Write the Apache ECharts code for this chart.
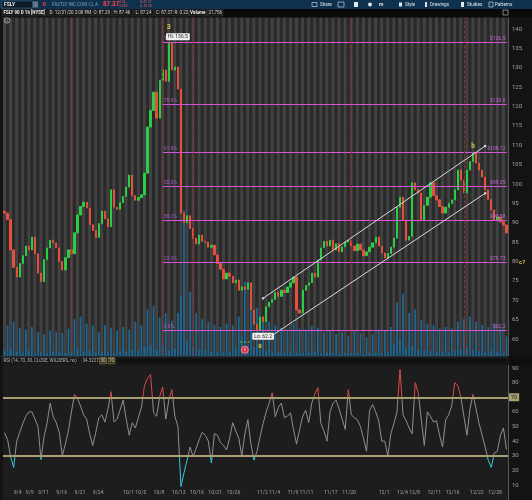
<!DOCTYPE html>
<html>
<head>
<meta charset="utf-8">
<script src="https://cdn.jsdelivr.net/npm/echarts@6/dist/echarts.min.js"></script>
<style>
html,body{margin:0;padding:0;background:#131313;}
#c{width:532px;height:500px;}
</style>
</head>
<body>
<div id="c"></div>
<script>
// ---------- DATA ----------
const tradingDays = ['9/3','9/4','9/8','9/9','9/10','9/11','9/14','9/15','9/16','9/17','9/18','9/21','9/22','9/23','9/24','9/25','9/28','9/29','9/30',
 '10/1','10/2','10/5','10/6','10/7','10/8','10/9','10/12','10/13','10/14','10/15','10/16','10/19','10/20','10/21','10/22','10/23','10/26','10/27','10/28','10/29','10/30',
 '11/2','11/3','11/4','11/5','11/6','11/9','11/10','11/11','11/12','11/13','11/16','11/17','11/18','11/19','11/20','11/23','11/24','11/25','11/27','11/30',
 '12/1','12/2','12/3','12/4','12/7','12/8','12/9','12/10','12/11','12/14','12/15','12/16','12/17','12/18','12/21','12/22','12/23','12/24','12/28','12/29','12/30','12/31'];
const labelledDays = ['9/4','9/9','9/11','9/16','9/21','9/24','10/1','10/5','10/8','10/13','10/16','10/21','10/26','11/2','11/4','11/9','11/11','11/17','11/20','12/1','12/4','12/8','12/11','12/16','12/22','12/28'];
const firstOpen = 93.0;
// closes per half-day session slot (extended, regular)
const closes = [
 92.5, 90.8, 83.0, 78.5, 76.0, 79.5, 81.5, 84.0, 83.0, 86.3,
 82.0, 77.0, 74.8, 80.5, 83.5, 85.5, 84.8, 83.5, 80.0, 77.8,
 81.0, 83.0, 82.0, 87.4, 92.0, 94.2, 95.3, 93.8, 89.5, 88.0,
 86.2, 89.8, 93.0, 91.0, 89.0, 98.5, 94.0, 93.5, 95.2, 96.8,
 99.2, 102.3, 97.0, 95.8, 96.5, 97.2, 102.8, 114.7, 119.0, 123.7,
 117.0, 126.8, 129.4, 126.5, 136.5, 129.4, 130.2, 124.5, 92.5, 90.0,
 91.8, 88.5, 86.0, 84.5, 86.8, 85.2, 85.0, 83.7, 84.2, 81.7,
 79.5, 78.0, 75.5, 77.0, 76.2, 74.5, 75.2, 72.6, 73.5, 72.8,
 74.5, 67.5, 63.8, 62.2, 65.7, 64.5, 68.3, 69.5, 70.2, 72.0,
 71.0, 72.6, 72.0, 73.4, 74.5, 76.0, 67.5, 66.7, 72.6, 73.8,
 74.5, 77.0, 76.0, 80.4, 83.5, 85.2, 84.0, 85.5, 83.0, 84.6,
 82.5, 83.8, 85.0, 85.5, 84.0, 82.8, 84.5, 83.0, 81.5, 82.5,
 83.7, 84.8, 86.3, 84.0, 82.2, 80.9, 82.0, 83.7, 86.0, 94.0,
 96.6, 90.7, 85.5, 86.5, 100.3, 98.5, 97.7, 90.7, 94.5, 96.6,
 100.3, 97.0, 95.9, 94.2, 92.5, 94.0, 95.0, 95.9, 98.5, 103.6,
 101.0, 97.7, 103.6, 105.8, 108.0, 105.4, 103.6, 101.8, 98.5, 96.0,
 93.3, 90.7, 91.5, 90.2, 89.4, 87.37];
const rsiValues = [
 45.8, 41, 29.3, 22, 40, 46, 52, 57, 60, 60,
 55, 50, 27.3, 43, 52.6, 66, 56.7, 52.6, 46, 30,
 38, 47, 60, 72, 69, 64, 58, 55, 45, 37,
 46, 56, 58, 53, 62, 73.8, 53, 55, 61.5, 68,
 55, 44, 52.6, 49, 56, 63, 78, 83, 85.5, 59.4,
 57, 70.4, 77, 55, 68, 75.2, 57, 50, 9, 18.4,
 27, 36, 29.3, 35, 41, 46, 44, 40, 25, 45,
 44, 39, 37, 34, 42, 52.6, 47, 42, 30, 45,
 54.6, 38, 27, 33, 43, 52, 60, 66, 73, 56.7,
 63, 66, 56, 57, 59.4, 47.8, 38, 48, 57, 61,
 52.6, 66, 72, 76.6, 52, 47, 40, 60, 66, 68,
 62, 55, 48, 75.2, 58, 56, 54.6, 50, 42, 33,
 61, 65, 60, 54, 40, 40, 30, 45, 52, 60,
 89, 58, 54, 49, 45, 80, 73, 54.6, 37, 60,
 57, 53, 54, 44, 36, 54.6, 58, 64, 80, 78,
 70, 57, 44, 62, 72, 62, 52, 44, 36, 27,
 22, 32, 33, 44, 49, 34.3227];
// volume (thousands) per slot: extended, regular
const volumes = [
 90,380, 110,420, 80,350, 70,330, 90,360, 60,300, 70,280, 60,320, 80,300, 70,290,
 60,340, 90,450, 110,480, 80,400, 90,380, 70,300, 80,380, 70,350, 60,320, 90,360,
 80,330, 100,420, 90,380, 130,560, 150,600, 100,470, 140,520, 90,430, 110,520, 720,1700,
 200,760, 120,520, 100,450, 90,420, 80,380, 80,360, 70,400, 80,380, 120,480, 260,880,
 150,620, 130,580, 100,480, 90,420, 80,380, 70,350, 60,330, 80,400, 70,340, 60,330,
 70,370, 80,350, 60,300, 70,320, 60,280, 50,300, 60,260, 70,320, 60,290, 50,240,
 60,280, 70,330, 60,320, 80,360, 160,640, 220,740, 120,520, 140,560, 100,440, 90,400,
 80,380, 70,340, 80,360, 70,340, 90,420, 100,450, 120,480, 90,420, 80,380, 70,360,
 90,400, 80,340, 60,250];
const fibLevels = [136.5, 120.6, 108.12, 99.35, 90.58, 79.73, 62.2];
const fibPercents = ['100%', '78.6%', '61.8%', '50.0%', '38.2%', '23.6%', '0.0%'];
const fibTags = ['$136.5', '$120.6', '$108.12', '$99.35', '$90.58', '$79.73', '$62.2'];
const fibStartSlot = 52;
const eventSlots = [22, 52, 62, 114, 151];
const channelUpper = [[85, 70.5], [158, 109.8]];
const channelLower = [[87, 60.4], [158, 97.6]];
const lastClose = 87.37;
const lastRsi = 34.3227;

// ---------- BUILD ----------
const slots = [];
tradingDays.forEach(d => { slots.push(d + ' ext'); slots.push(d); });
const lastSlot = slots.length - 1;
const labelSet = new Set(labelledDays.map(d => 2 * tradingDays.indexOf(d) + 1));
const candles = closes.map((c, i) => {
  const o = i ? closes[i - 1] : firstOpen;
  return [o, c, Math.min(o, c), Math.max(o, c)];
});

const FONT = 'Roboto';
const fibColor = '#d652d6';
const markLines = [];
fibLevels.forEach((v, i) => {
  markLines.push([
    {coord: [fibStartSlot, v], lineStyle: {color: fibColor, width: 1.2, type: 'solid'},
     label: {show: true, position: 'insideStartTop', formatter: fibPercents[i], color: '#a65cbf', fontSize: 5, distance: 1, fontFamily: FONT}},
    {coord: [lastSlot, v]}]);
  markLines.push([
    {coord: [fibStartSlot, v], lineStyle: {color: fibColor, width: 1.2, type: 'solid'},
     label: {show: true, position: 'insideEndTop', formatter: fibTags[i], color: '#c66cd8', fontSize: 5, distance: 1, fontFamily: FONT}},
    {coord: [lastSlot, v]}]);
});
eventSlots.forEach(s => markLines.push({xAxis: s, lineStyle: {color: '#9b2f2f', width: 1, type: [3, 2]}, label: {show: false}}));
[channelUpper, channelLower].forEach(ch => markLines.push([
  {coord: ch[0], symbol: 'circle', symbolSize: 2.5, lineStyle: {color: '#d9d9d9', width: 1, type: 'solid'}, label: {show: false}},
  {coord: ch[1], symbol: 'circle', symbolSize: 2.5}]));
markLines.push({yAxis: lastClose, lineStyle: {opacity: 0},
  label: {show: true, position: 'end', formatter: String(lastClose), backgroundColor: '#22a03e', color: '#ffffff',
          fontSize: 5.5, padding: [1, 2], distance: 1, fontFamily: FONT}});

const noteStyle = (txt, color, size, bg) => ({show: true, position: 'inside', formatter: txt, color: color, fontSize: size,
  fontWeight: 'bold', fontFamily: FONT, backgroundColor: bg || 'transparent', padding: bg ? [1, 2] : 0, borderRadius: 1});
const markPoints = [
  {coord: [54, 140.5], label: noteStyle('3', '#d8c54a', 7)},
  {coord: [57, 138.0], label: Object.assign(noteStyle('Hi: 136.5', '#222', 5, '#eeeeee'), {fontWeight: 'normal'})},
  {coord: [85, 60.7], label: Object.assign(noteStyle('Lo: 62.2', '#222', 5, '#eeeeee'), {fontWeight: 'normal'})},
  {coord: [84, 58.1], label: noteStyle('a', '#d8c54a', 6.5)},
  {coord: [154, 109.6], label: noteStyle('b', '#d8c54a', 6.5)},
  {coord: [79, 59.0], label: noteStyle('=·=·=', '#3fcf4a', 4.5)},
  {coord: [79, 57.2], symbol: 'circle', symbolSize: 7, itemStyle: {color: '#d0304a', borderColor: '#ff8a9a', borderWidth: 1},
   label: {show: true, position: 'inside', formatter: 'E', color: '#ffd0d8', fontSize: 4, fontFamily: FONT}}
];
markPoints.forEach(p => { if (!p.symbol) { p.symbol = 'circle'; p.symbolSize = 1; p.itemStyle = {color: 'rgba(0,0,0,0)'}; } });

// ---------- DECORATION (toolbar / headers) ----------
const T = (x, y, text, fill, size, weight, align) => ({type: 'text', x: x, y: y, z: 101,
  style: {text: text, fill: fill, font: (weight || 'normal') + ' ' + size + 'px ' + FONT, align: align || 'left', verticalAlign: 'middle'}});
const R = (x, y, w, h, fill, stroke) => ({type: 'rect', z: 100, shape: {x: x, y: y, width: w, height: h},
  style: {fill: fill, stroke: stroke || null, lineWidth: stroke ? 0.6 : 0}});
const graphics = [
  R(0, 0, 532, 9, '#0f3150'),
  R(1.5, 1, 31, 7, '#0b1b2a', '#46637d'),
  T(4, 4.6, 'FSLY', '#e8e8e8', 5, 'bold'),
  R(33, 1.5, 5, 6, '#62788a'),
  T(42.5, 4.6, '0', '#ff3b3b', 6, 'bold'),
  T(52, 4.6, 'FASTLY INC COM CL A', '#7f9fc0', 4.6),
  T(103, 4.6, '87.37', '#ff4242', 6.3, 'bold'),
  T(118.5, 2.6, '-0.06', '#e05555', 3.2), T(118.5, 6.5, '-0.06%', '#e05555', 3.2),
  T(140, 2.6, 'B: 87.37', '#e05555', 3.2), T(140, 6.5, 'A: 87.38', '#e05555', 3.2),
  R(312, 2.5, 5, 4, 'transparent', '#dfe6ee'), T(320, 4.6, 'Share', '#dfe6ee', 4.6),
  R(338, 2, 6, 5, 'transparent', '#dfe6ee'),
  R(354, 2, 4, 5, '#dfe6ee'),
  {type: 'circle', z: 101, shape: {cx: 370, cy: 4.5, r: 2}, style: {fill: '#dfe6ee'}},
  T(379, 4.6, 'm', '#dfe6ee', 5, 'bold'),
  R(399, 2.5, 3, 4, '#dfe6ee'), T(405, 4.6, 'Style', '#dfe6ee', 4.6),
  R(425, 2, 2, 5, '#dfe6ee'), T(430, 4.6, 'Drawings', '#dfe6ee', 4.6),
  R(461, 2, 3, 5, '#dfe6ee'), T(467, 4.6, 'Studies', '#dfe6ee', 4.6),
  R(489, 2, 4, 5, 'transparent', '#dfe6ee'), T(495, 4.6, 'Patterns', '#dfe6ee', 4.6),
  // info row
  R(0, 9, 532, 8.5, '#0a0a0a'),
  R(2, 9.8, 45, 6.2, '#161616', '#3a3a3a'), T(3.5, 12.9, 'FSLY 90 D 1h [NYSE]', '#f0f0f0', 4.5, 'bold'),
  R(48, 9.8, 43, 6.2, '#161616', '#3a3a3a'), T(49.5, 12.9, 'D: 12/31/20 2:00 PM', '#dddddd', 4.5),
  R(92, 9.8, 19.5, 6.2, '#161616', '#3a3a3a'), T(93.5, 12.9, 'O: 87.29', '#dddddd', 4.5),
  R(112, 9.8, 21, 6.2, '#161616', '#3a3a3a'), T(113.5, 12.9, 'H: 87.46', '#dddddd', 4.5),
  R(134, 9.8, 20, 6.2, '#161616', '#3a3a3a'), T(135.5, 12.9, 'L: 87.24', '#dddddd', 4.5),
  R(155, 9.8, 18, 6.2, '#161616', '#3a3a3a'), T(156, 12.9, 'C: 87.37', '#dddddd', 4.5),
  R(173.5, 9.8, 15, 6.2, '#161616', '#3a3a3a'), T(174.5, 12.9, 'R: 0.22', '#dddddd', 4.5),
  R(189, 9.8, 17.5, 6.2, '#161616', '#3a3a3a'), T(190, 12.9, 'Volume', '#f0f0f0', 4.5, 'bold'),
  R(207, 9.8, 16, 6.2, '#161616', '#3a3a3a'), T(208.5, 12.9, '21,756', '#dddddd', 4.5),
  R(503, 10, 5, 5, 'transparent', '#cfcfcf'),
  {type: 'circle', z: 101, shape: {cx: 7, cy: 20.5, r: 2.6}, style: {fill: 'transparent', stroke: '#d0d0d0', lineWidth: 0.7}},
  T(7, 20.7, 'i', '#d0d0d0', 4, 'bold', 'center'),
  T(519, 262, 'c?', '#d8c54a', 6, 'bold'),
  // RSI header
  R(0, 356, 532, 9, '#0e0e0e'),
  R(0, 356, 508, 0.6, '#2e4a5e'),
  R(2, 357.5, 78, 6.5, '#141414', '#353535'), T(3.5, 360.9, 'RSI (14, 70, 30, CLOSE, WILDERS, no)', '#bdbdbd', 4.5),
  R(81, 357.5, 17, 6.5, '#141414', '#353535'), T(82.5, 360.9, '34.3227', '#bdbdbd', 4.5),
  R(99.5, 357.5, 7, 6.5, '#3a3524', '#8d845c'), T(103, 360.9, '30', '#e2d9a6', 4.5, 'normal', 'center'),
  R(108, 357.5, 7, 6.5, '#3a3524', '#8d845c'), T(111.5, 360.9, '70', '#e2d9a6', 4.5, 'normal', 'center'),
  R(117, 357.5, 391, 6.5, '#111111', '#2a2a2a')
];

// ---------- CHART ----------
const chart = echarts.init(document.getElementById('c'), null, {renderer: 'canvas'});
const axisLabelStyle = {color: '#a0a0a0', fontSize: 6, fontFamily: FONT};
chart.setOption({
  animation: false,
  backgroundColor: '#131313',
  textStyle: {fontFamily: FONT},
  grid: [
    {left: 3, right: 24, top: 9.625, height: 348.75, show: true, backgroundColor: '#2a2a2a', borderWidth: 0},
    {left: 3, right: 24, top: 353.375, height: 146.25, show: true, backgroundColor: '#1d1d1d', borderWidth: 0}
  ],
  xAxis: [
    {type: 'category', gridIndex: 0, data: slots, boundaryGap: true,
     axisLine: {show: false}, axisTick: {show: false}, axisLabel: {show: false},
     splitLine: {show: false},
     splitArea: {show: true, interval: 0, areaStyle: {color: ['#424242', '#2a2a2a']}}},
    {type: 'category', gridIndex: 1, data: slots, boundaryGap: true, offset: -11,
     axisLine: {show: false}, axisTick: {show: false},
     axisLabel: {interval: (i) => labelSet.has(i), align: 'left', margin: 2, color: '#a0a0a0', fontSize: 5.2, fontFamily: FONT},
     splitLine: {show: false}}
  ],
  yAxis: [
    {type: 'value', gridIndex: 0, position: 'right', min: 55, max: 145, interval: 5,
     axisLine: {show: true, lineStyle: {color: '#5a5a5a'}}, axisTick: {show: false},
     axisLabel: Object.assign({margin: 4, showMinLabel: false, showMaxLabel: false}, axisLabelStyle),
     splitLine: {show: true, lineStyle: {color: 'rgba(255,255,255,0.07)', type: 'dotted'}}},
    {type: 'value', gridIndex: 1, position: 'right', min: 0, max: 100, interval: 10,
     axisLine: {show: true, lineStyle: {color: '#5a5a5a'}}, axisTick: {show: false},
     axisLabel: Object.assign({margin: 4, showMinLabel: false, showMaxLabel: false}, axisLabelStyle),
     splitLine: {show: false}},
    {type: 'value', gridIndex: 0, min: 0, max: 4000, show: false}
  ],
  visualMap: {type: 'piecewise', show: false, seriesIndex: 2, dimension: 1,
    pieces: [{gte: 70, color: '#d64b4b'}, {lte: 30, color: '#35c8d6'}, {gt: 30, lt: 70, color: '#8e8e8e'}]},
  series: [
    {type: 'bar', name: 'Volume', xAxisIndex: 0, yAxisIndex: 2, data: volumes, barWidth: 1.8,
     itemStyle: {color: '#1c6894'}, silent: true},
    {type: 'candlestick', name: 'FSLY', xAxisIndex: 0, yAxisIndex: 0, data: candles, barWidth: 1.8,
     itemStyle: {color: '#2ccc44', color0: '#e5503c', borderColor: '#2ccc44', borderColor0: '#e5503c', borderWidth: 1},
     markLine: {silent: true, symbol: ['none', 'none'], animation: false, data: markLines},
     markPoint: {silent: true, animation: false, data: markPoints}},
    {type: 'line', name: 'RSI', xAxisIndex: 1, yAxisIndex: 1, data: rsiValues, symbol: 'none',
     lineStyle: {width: 1},
     markLine: {silent: true, symbol: ['none', 'none'], animation: false, data: [
       {yAxis: 70, lineStyle: {color: '#a99e70', width: 2, type: 'solid'},
        label: {show: true, position: 'end', formatter: '70', backgroundColor: '#a99e70', color: '#151515', fontSize: 5.5, padding: [1, 2], distance: 1, fontFamily: FONT}},
       {yAxis: 30, lineStyle: {color: '#a99e70', width: 2, type: 'solid'}, label: {show: false}},
       {yAxis: lastRsi, lineStyle: {opacity: 0},
        label: {show: true, position: 'end', formatter: String(lastRsi), backgroundColor: '#4d4d4d', color: '#e0e0e0', fontSize: 5, padding: [1, 1], distance: 1, fontFamily: FONT}}
     ]}}
  ],
  graphic: {elements: graphics}
});
</script>
</body>
</html>
